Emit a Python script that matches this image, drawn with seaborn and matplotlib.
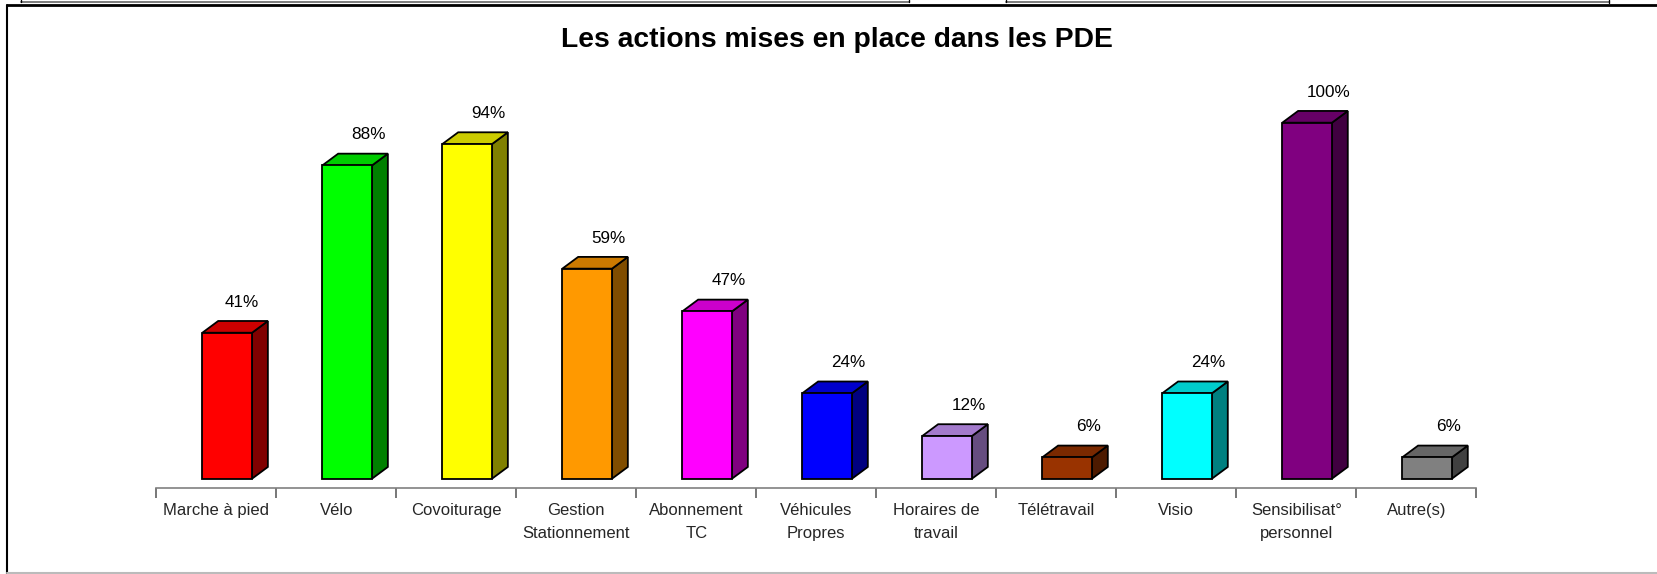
import matplotlib
matplotlib.use("Agg")
import matplotlib.pyplot as plt
from matplotlib.patches import Polygon
from matplotlib.lines import Line2D
import seaborn as sns
import pandas as pd
import numpy as np

categories = ["Marche à pied", "Vélo", "Covoiturage", "Gestion\nStationnement",
              "Abonnement\nTC", "Véhicules\nPropres", "Horaires de\ntravail",
              "Télétravail", "Visio", "Sensibilisat°\npersonnel", "Autre(s)"]
values = [41, 88, 94, 59, 47, 24, 12, 6, 24, 100, 6]
value_labels = ["41%", "88%", "94%", "59%", "47%", "24%", "12%", "6%", "24%", "100%", "6%"]
front_colors = ["#FF0000", "#00FF00", "#FFFF00", "#FF9900", "#FF00FF", "#0000FF",
                "#CC99FF", "#993300", "#00FFFF", "#800080", "#808080"]
title = "Les actions mises en place dans les PDE"

sns.set_theme(style="white")
plt.rcParams["font.family"] = ["Liberation Sans", "DejaVu Sans"]

W, H = 1657, 574
fig = plt.figure(figsize=(W / 100, H / 100), dpi=100)
fig.patch.set_facecolor("white")

# axes geometry (pixels)
ax_left, ax_right = 156.4, 1476.3
ax_bottom_px = 488.2
ymin, ymax = -2.67, 105
px_per_unit = 3.56
ax_top_px = ax_bottom_px - (ymax - ymin) * px_per_unit
ax = fig.add_axes([ax_left / W, 1 - ax_bottom_px / H,
                   (ax_right - ax_left) / W, (ax_bottom_px - ax_top_px) / H])

df = pd.DataFrame({"cat": categories, "val": values})
sns.barplot(data=df, x="cat", y="val", hue="cat", palette=front_colors,
            legend=False, width=0.414, edgecolor="black", linewidth=1.3,
            saturation=1, ax=ax, zorder=3)

def scale(c, f):
    r, g, b = matplotlib.colors.to_rgb(c)
    return (r * f, g * f, b * f)

dx = 0.132
dy = 3.3
shift = 0.09
for i, (patch, col, lab) in enumerate(zip(ax.patches, front_colors, value_labels)):
    patch.set_x(patch.get_x() + shift)
    x0 = patch.get_x()
    x1 = x0 + patch.get_width()
    h = patch.get_height()
    side = Polygon([(x1, 0), (x1 + dx, dy), (x1 + dx, h + dy), (x1, h)], closed=True,
                   facecolor=scale(col, 0.5), edgecolor="black", linewidth=1.3, zorder=2.9)
    top = Polygon([(x0, h), (x0 + dx, h + dy), (x1 + dx, h + dy), (x1, h)], closed=True,
                  facecolor=scale(col, 0.8), edgecolor="black", linewidth=1.3, zorder=2.9)
    ax.add_patch(side)
    ax.add_patch(top)
    off = 0.12 if i == 0 else 0.18
    ax.text((x0 + x1) / 2 + off, h + dy + 3.2, lab, ha="center", va="bottom",
            fontsize=12.3, color="black")

ax.set_xlim(-0.5, len(categories) - 0.5)
ax.set_ylim(ymin, ymax)
ax.set_xlabel("")
ax.set_ylabel("")
ax.set_yticks([])
for s in ["top", "right", "left"]:
    ax.spines[s].set_visible(False)
ax.spines["bottom"].set_color("#808080")
ax.spines["bottom"].set_linewidth(1.2)
ax.set_xticks(range(len(categories)))
ax.set_xticklabels(categories, fontsize=12, linespacing=1.65, va="top")
ax.tick_params(axis="x", which="major", length=0, pad=11)
ax.set_xticks(np.arange(-0.5, len(categories), 1.0), minor=True)
ax.tick_params(axis="x", which="minor", length=7, width=1.2, color="#606060",
               direction="out", bottom=True)
ax.set_facecolor("white")

fig.text(837 / W, 1 - 40 / H, title, ha="center", va="center",
         fontsize=20.3, fontweight="bold", color="black")

# frame lines (slide screenshot)
def fline(xs, ys, color="black", lw=1.5):
    fig.add_artist(Line2D([x / W for x in xs], [1 - y / H for y in ys],
                          color=color, linewidth=lw, transform=fig.transFigure))

fline([7, 1657], [4.5, 4.5], lw=2.0)
fline([7, 7], [4.5, 574], lw=1.5)
fline([7, 1657], [572.5, 572.5], color="#BBBBBB", lw=1.5)
fline([21, 909], [1.5, 1.5], color="#666666", lw=1.2)
fline([21, 21], [0, 2], lw=1.0)
fline([909, 909], [0, 2], lw=1.0)
fline([1006, 1609], [1.5, 1.5], color="#666666", lw=1.2)
fline([1006, 1006], [0, 2], lw=1.0)
fline([1609, 1609], [0, 3], lw=1.0)

fig.savefig("out.png", dpi=100, facecolor="white")
